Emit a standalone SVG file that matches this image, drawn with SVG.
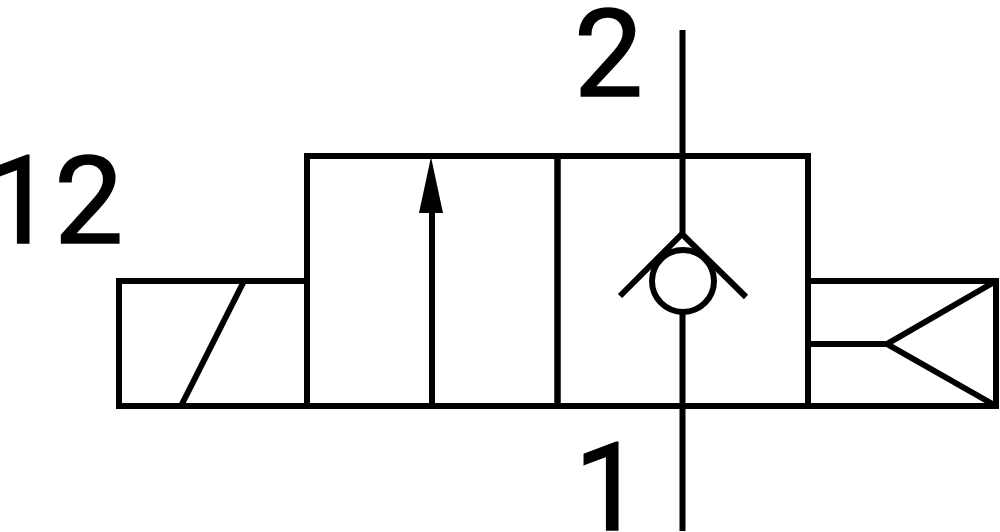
<svg xmlns="http://www.w3.org/2000/svg" width="1000" height="532" viewBox="0 0 1000 532">
<style>
.l{fill:none;stroke:#000;stroke-width:6}
.t{font-family:Roboto,"Liberation Sans",Arial,sans-serif;font-size:123px;fill:#000;stroke:#000;stroke-width:1.500}
</style>
<rect width="1000" height="532" fill="#fff"/>
<g id="connectors">
<path class="l" d="M682.500 30V234M682.500 312V531"/>
<path class="l" d="M432 185V406"/>
<polygon points="431,157 443,213 419,213" fill="#000"/>
</g>
<g id="valve-body">
<rect class="l" x="307" y="156" width="250.500" height="250"/>
<rect class="l" x="557.500" y="156" width="250.500" height="250"/>
</g>
<g id="solenoid">
<path class="l" d="M307 281H119V406H307"/>
<path class="l" d="M244 281L181 406"/>
</g>
<g id="check-valve">
<path class="l" d="M620 296L682 234L746 297"/>
<circle class="l" cx="683" cy="281" r="31"/>
</g>
<g id="spring">
<path class="l" d="M808 281H996V406H808"/>
<path class="l" d="M808 344H887"/>
<path class="l" d="M996 281L887 344L996 406"/>
</g>
<text class="t" x="574" y="96">2</text>
<text class="t" x="-15" y="243">12</text>
<text class="t" x="574" y="530">1</text>
</svg>
